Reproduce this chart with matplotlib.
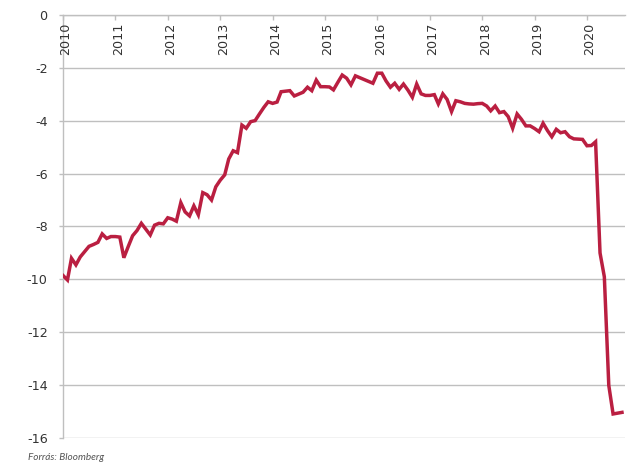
"""Monthly series 2010-2020, source: Bloomberg."""

import pandas as pd
import matplotlib
matplotlib.use("Agg")
import matplotlib.pyplot as plt
import matplotlib.transforms as mtransforms

# monthly values, Jan 2010 .. Sep 2020
values = [
    -9.85, -10.02, -9.2, -9.45, -9.15, -8.95, -8.75, -8.68, -8.6, -8.28, -8.45, -8.38,
    -8.38, -8.4, -9.18, -8.75, -8.35, -8.15, -7.88, -8.1, -8.32, -7.95, -7.88, -7.9,
    -7.67, -7.72, -7.8, -7.1, -7.45, -7.6, -7.22, -7.56, -6.72, -6.8, -7.0, -6.5,
    -6.25, -6.05, -5.45, -5.14, -5.21, -4.17, -4.29, -4.04, -4.0, -3.75, -3.5, -3.29,
    -3.35, -3.3, -2.91, -2.89, -2.87, -3.07, -3.0, -2.93, -2.74, -2.87, -2.47, -2.72,
    -2.72, -2.73, -2.84, -2.55, -2.28, -2.4, -2.65, -2.31, -2.38, -2.45, -2.52, -2.59,
    -2.21, -2.21, -2.5, -2.74, -2.59, -2.82, -2.62, -2.85, -3.12, -2.62, -2.99, -3.05,
    -3.05, -3.02, -3.37, -2.99, -3.2, -3.66, -3.25, -3.29, -3.35, -3.37, -3.38, -3.36,
    -3.35, -3.45, -3.63, -3.45, -3.7, -3.66, -3.85, -4.29, -3.75, -3.95, -4.2, -4.2,
    -4.3, -4.42, -4.1, -4.38, -4.61, -4.33, -4.46, -4.42, -4.61, -4.69, -4.7, -4.71,
    -4.95, -4.94, -4.8, -9.0, -9.9, -14.0, -15.08, -15.05, -15.02,
]
dates = pd.date_range("2010-01-01", periods=len(values), freq="MS")
years = list(range(2010, 2021))
y_ticks = list(range(-16, 1, 2))
source = "Forrás: Bloomberg"

LINE = "#BA1F41"
GRID = "#BFBFBF"
TEXT = "#333333"

plt.rcParams["axes.unicode_minus"] = False

fig = plt.figure(figsize=(6.34, 4.63), dpi=100)
ax = fig.add_axes([0.0994, 0.0533, 0.8864, 0.915])

ax.plot(dates, values, color=LINE, lw=2.5, solid_joinstyle="miter", zorder=3)

ax.set_ylim(-16, 0)
ax.set_xlim(pd.Timestamp("2010-01-01"), pd.Timestamp("2020-09-22"))

ax.set_yticks(y_ticks)
ax.set_yticklabels([str(v) for v in y_ticks])
ax.grid(axis="y", color=GRID, lw=1.0, zorder=1)

# year ticks on the top line, labels written downwards inside the plot
year_starts = [pd.Timestamp(f"{y}-01-01") for y in years]
ax.set_xticks(year_starts)
ax.tick_params(axis="x", top=True, bottom=False, labeltop=False, labelbottom=False,
               direction="in", length=3.6, width=1.0, color=GRID)
trans = mtransforms.blended_transform_factory(ax.transData, ax.transAxes)
trans = trans + mtransforms.ScaledTranslation(3 / 100, -8 / 100, fig.dpi_scale_trans)
for ts, y in zip(year_starts, years):
    ax.text(ts, 1, str(y), transform=trans, rotation=90, ha="center", va="top",
            fontsize=9.2, color=TEXT)

ax.tick_params(axis="y", direction="out", length=3, width=1.0, color=GRID,
               labelsize=9.2, labelcolor=TEXT, pad=8)

for side in ["right", "bottom"]:
    ax.spines[side].set_visible(False)
for side in ["left", "top"]:
    ax.spines[side].set_color(GRID)
    ax.spines[side].set_linewidth(1.0)

fig.text(28 / 634, 1 - 457 / 463, source, fontsize=7.2, family="Lato",
         style="italic", color="#555555", va="center", ha="left")

fig.savefig("out.png", dpi=100)
